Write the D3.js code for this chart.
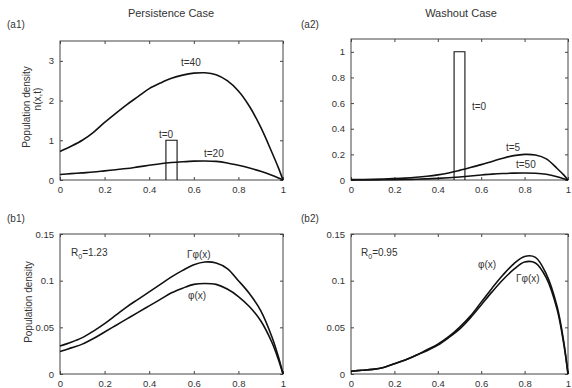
<!DOCTYPE html>
<html lang="en">
<head>
<script src="https://d3js.org/d3.v7.min.js"></script>
<style>
  body { margin: 0; background: #fff; }
  text { font-family: "Liberation Sans", Arial, sans-serif; fill: #333; }
</style>
</head>
<body>
<script>
var width = 572;
var height = 388;

// shared x grid for all curves
var xs = [0, 0.05, 0.1, 0.15, 0.2, 0.25, 0.3, 0.35, 0.4, 0.45, 0.5, 0.55, 0.6, 0.65, 0.7, 0.75, 0.8, 0.85, 0.9, 0.95, 0.98, 1];

// (a1) persistence case, n(x,t)
var a1_t40 = [0.72, 0.85, 1.0, 1.2, 1.45, 1.68, 1.9, 2.1, 2.3, 2.44, 2.56, 2.64, 2.69, 2.7, 2.65, 2.5, 2.24, 1.85, 1.33, 0.7, 0.3, 0];
var a1_t20 = [0.14, 0.16, 0.18, 0.2, 0.23, 0.26, 0.29, 0.33, 0.37, 0.41, 0.44, 0.46, 0.475, 0.48, 0.47, 0.43, 0.37, 0.3, 0.22, 0.12, 0.05, 0];
// (a2) washout case
var a2_t5 = [0.003, 0.004, 0.006, 0.008, 0.011, 0.015, 0.021, 0.029, 0.04, 0.055, 0.075, 0.097, 0.12, 0.145, 0.17, 0.19, 0.2, 0.195, 0.165, 0.09, 0.04, 0];
var a2_t50 = [0.0, 0.001, 0.001, 0.002, 0.003, 0.004, 0.006, 0.009, 0.013, 0.018, 0.024, 0.031, 0.039, 0.046, 0.051, 0.054, 0.055, 0.053, 0.045, 0.026, 0.01, 0];
var pulse = [[0.475, 0], [0.475, 1], [0.525, 1], [0.525, 0]];

// (b1) R0 = 1.23
var b1_gphi = [0.030, 0.034, 0.039, 0.046, 0.054, 0.063, 0.072, 0.080, 0.088, 0.096, 0.104, 0.111, 0.117, 0.12, 0.119, 0.113, 0.1, 0.086, 0.068, 0.04, 0.018, 0];
var b1_phi = [0.024, 0.028, 0.032, 0.038, 0.045, 0.052, 0.059, 0.066, 0.073, 0.080, 0.087, 0.092, 0.096, 0.097, 0.096, 0.091, 0.083, 0.072, 0.057, 0.034, 0.015, 0];
// (b2) R0 = 0.95
var b2_phi = [0.003, 0.004, 0.005, 0.007, 0.011, 0.015, 0.020, 0.026, 0.032, 0.040, 0.050, 0.062, 0.077, 0.092, 0.106, 0.118, 0.126, 0.125, 0.107, 0.072, 0.035, 0];
var b2_gphi = [0.003, 0.004, 0.005, 0.007, 0.011, 0.015, 0.020, 0.025, 0.031, 0.039, 0.048, 0.060, 0.074, 0.088, 0.101, 0.112, 0.12, 0.119, 0.103, 0.069, 0.033, 0];

var xticks = [0, 0.2, 0.4, 0.6, 0.8, 1];

var svg = d3.select("body").append("svg")
    .attr("width", width)
    .attr("height", height);

function panel(opt) {
  var x = d3.scaleLinear().domain([0, 1]).range([opt.left, opt.right]);
  var y = d3.scaleLinear().domain([0, opt.ymax]).range([opt.bottom, opt.top]);
  var g = svg.append("g");

  // inward ticks on all four sides
  g.append("g").attr("transform", "translate(0," + opt.bottom + ")")
    .call(d3.axisBottom(x).tickValues(xticks).tickSize(-3).tickPadding(6).tickFormat(d3.format("")));
  g.append("g").attr("transform", "translate(0," + opt.top + ")")
    .call(d3.axisTop(x).tickValues(xticks).tickSize(-3).tickFormat(""));
  g.append("g").attr("transform", "translate(" + opt.left + ",0)")
    .call(d3.axisLeft(y).tickValues(opt.yticks).tickSize(-3).tickPadding(6).tickFormat(d3.format("")));
  g.append("g").attr("transform", "translate(" + opt.right + ",0)")
    .call(d3.axisRight(y).tickValues(opt.yticks).tickSize(-3).tickFormat(""));
  g.selectAll(".domain").remove();
  g.selectAll(".tick line").attr("stroke", "#444");
  g.selectAll(".tick text").attr("font-size", 9.5).style("fill", "#333");

  g.append("rect")
    .attr("x", opt.left).attr("y", opt.top)
    .attr("width", opt.right - opt.left).attr("height", opt.bottom - opt.top)
    .attr("fill", "none").attr("stroke", "#444").attr("stroke-width", 1);

  var line = d3.line().x(function(d) { return x(d[0]); }).y(function(d) { return y(d[1]); })
    .curve(d3.curveCatmullRom);
  opt.series.forEach(function(s) {
    g.append("path").datum(xs.map(function(v, i) { return [v, s[i]]; }))
      .attr("d", line).attr("fill", "none").attr("stroke", "#111").attr("stroke-width", 1.6);
  });
  if (opt.pulse) {
    g.append("path").datum(pulse)
      .attr("d", d3.line().x(function(d) { return x(d[0]); }).y(function(d) { return y(d[1]); }))
      .attr("fill", "none").attr("stroke", "#111").attr("stroke-width", 1.1);
  }
  opt.labels.forEach(function(l) {
    var t = g.append("text").attr("x", l[0]).attr("y", l[1]).attr("font-size", 10);
    if (l[3]) {
      t.append("tspan").text("R");
      t.append("tspan").attr("font-size", 7).attr("dy", 3).text("0");
      t.append("tspan").attr("dy", -3).text(l[2]);
    } else {
      t.text(l[2]);
    }
  });
  return g;
}

panel({left: 60, right: 283, top: 41, bottom: 180, ymax: 3.5, yticks: [0, 1, 2, 3],
  series: [a1_t40, a1_t20], pulse: true,
  labels: [[181, 66, "t=40"], [159, 138, "t=0"], [204, 157, "t=20"]]});
panel({left: 351, right: 568, top: 39, bottom: 180, ymax: 1.1, yticks: [0, 0.2, 0.4, 0.6, 0.8, 1],
  series: [a2_t5, a2_t50], pulse: true,
  labels: [[472, 110, "t=0"], [506, 151, "t=5"], [516, 168, "t=50"]]});
panel({left: 60, right: 283, top: 234, bottom: 374, ymax: 0.15, yticks: [0, 0.05, 0.1, 0.15],
  series: [b1_gphi, b1_phi],
  labels: [[71, 256, "=1.23", true], [187, 258, "\u0393\u03c6(x)"], [188, 299, "\u03c6(x)"]]});
panel({left: 351, right: 568, top: 234, bottom: 374, ymax: 0.15, yticks: [0, 0.05, 0.1, 0.15],
  series: [b2_phi, b2_gphi],
  labels: [[361, 256, "=0.95", true], [478, 268, "\u03c6(x)"], [516, 282, "\u0393\u03c6(x)"]]});

// titles and panel tags
svg.append("text").attr("x", 171).attr("y", 17).attr("text-anchor", "middle").attr("font-size", 11).text("Persistence Case");
svg.append("text").attr("x", 461).attr("y", 17).attr("text-anchor", "middle").attr("font-size", 11).text("Washout Case");
[["(a1)", 7, 28], ["(a2)", 301, 28], ["(b1)", 7, 222], ["(b2)", 301, 222]].forEach(function(d) {
  svg.append("text").attr("x", d[1]).attr("y", d[2]).attr("font-size", 10).text(d[0]);
});

// y axis titles
svg.append("text").attr("transform", "translate(30,107) rotate(-90)").attr("text-anchor", "middle")
  .attr("font-size", 10).text("Population density");
svg.append("text").attr("transform", "translate(41,99) rotate(-90)").attr("text-anchor", "middle")
  .attr("font-size", 10).text("n(x,t)");
svg.append("text").attr("transform", "translate(32,302) rotate(-90)").attr("text-anchor", "middle")
  .attr("font-size", 10).text("Population density");
</script>
</body>
</html>
